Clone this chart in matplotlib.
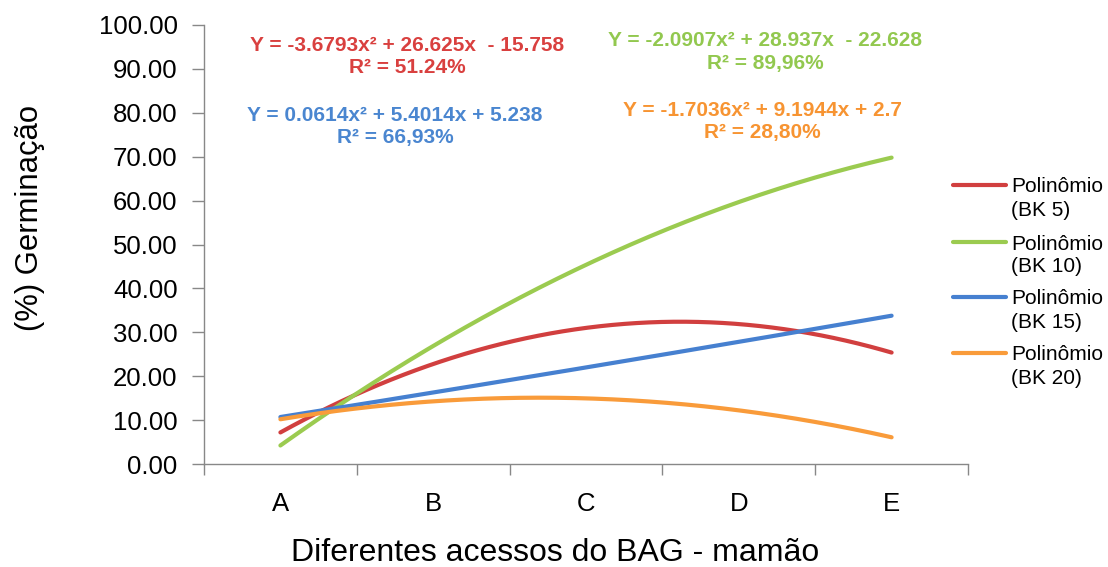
import numpy as np
import matplotlib
matplotlib.use("Agg")
import matplotlib.pyplot as plt
from matplotlib.lines import Line2D

plt.rcParams['font.family'] = ['Liberation Sans', 'DejaVu Sans']

# Categories (accessions) on the x axis
categories = ["A", "B", "C", "D", "E"]

# Quadratic trend coefficients (a, b, c) for Y = a*x^2 + b*x + c
coef_bk5 = [-3.6793, 26.625, -15.758]
coef_bk10 = [-2.0907, 28.937, -22.628]
coef_bk15 = [0.0614, 5.4014, 5.238]
coef_bk20 = [-1.7036, 9.1944, 2.7]

series_names = ["Polinômio\n(BK 5)", "Polinômio\n(BK 10)", "Polinômio\n(BK 15)", "Polinômio\n(BK 20)"]
r2_labels = ["51.24%", "89,96%", "66,93%", "28,80%"]
y_ticks = [0, 10, 20, 30, 40, 50, 60, 70, 80, 90, 100]

line_colors = ["#D13F3F", "#9BCB50", "#4680D0", "#F99B3A"]
text_colors = ["#D9403F", "#92C84F", "#4A86D0", "#F79432"]

W, H = 1108, 567
AX_L, AX_R, AX_T, AX_B = 204, 968, 25, 464
fig = plt.figure(figsize=(W / 100, H / 100), dpi=100)
ax = fig.add_axes([AX_L / W, 1 - AX_B / H, (AX_R - AX_L) / W, (AX_B - AX_T) / H])

x = np.arange(1, len(categories) + 1)
xs = np.linspace(x[0], x[-1], 200)
coefs = [coef_bk5, coef_bk10, coef_bk15, coef_bk20]
for c, col in zip(coefs, line_colors):
    ax.plot(xs, np.polyval(c, xs), color=col, lw=3.0, solid_capstyle="round")

ax.set_xlim(0.5, len(categories) + 0.5)
ax.set_ylim(0, 100)
ax.set_yticks(y_ticks)
ax.set_yticklabels([f"{v:.2f}" for v in y_ticks], fontsize=18.5)
ax.set_xticks(np.arange(0.5, len(categories) + 1, 1.0))
ax.set_xticklabels([])
ax.set_xticks(x, minor=True)
ax.set_xticklabels(categories, minor=True, fontsize=18.5)
ax.tick_params(axis="x", which="major", length=8, color="#888888", width=1)
ax.tick_params(axis="x", which="minor", length=0, pad=20)
ax.tick_params(axis="y", length=9, color="#888888", width=1, pad=10)
for s in ["top", "right"]:
    ax.spines[s].set_visible(False)
for s in ["left", "bottom"]:
    ax.spines[s].set_color("#888888")
    ax.spines[s].set_linewidth(1)

ax.set_ylabel("(%) Germinação", fontsize=22.3)
ax.yaxis.set_label_coords((30 - AX_L) / (AX_R - AX_L), (AX_B - 218) / (AX_B - AX_T))
ax.yaxis.label.set_va("center")
fig.text(555 / W, 1 - 553 / H, "Diferentes acessos do BAG - mamão",
         fontsize=23, ha="center", va="center")

# Regression equations
def eq_text(c):
    a, b, k = c
    def term(v, first=False):
        if first:
            return f"{v:g}"
        return f"+ {v:g}" if v >= 0 else f"- {abs(v):g}"
    gap = "  " if k < 0 else " "
    return f"Y = {term(a, True)}x² {term(b)}x{gap}{term(k)}"

eq_pos = [(407, 45.5, 67.5), (765, 40.5, 63.5), (395, 115.5, 137.5), (762, 110.5, 132.5)]
for c, r2, col, (px, py, ry) in zip(coefs, r2_labels, text_colors, eq_pos):
    fig.text(px / W, 1 - py / H, eq_text(c), color=col, fontsize=15,
             fontweight="bold", ha="center", va="center")
    fig.text(px / W, 1 - ry / H, f"R² = {r2}", color=col, fontsize=15,
             fontweight="bold", ha="center", va="center")

# Legend drawn at the right side
leg_y = [185, 242, 297, 353]
for name, col, ly in zip(series_names, line_colors, leg_y):
    fig.add_artist(Line2D([953 / W, 1006 / W], [1 - ly / H, 1 - ly / H],
                          color=col, lw=3.0, solid_capstyle="round"))
    first, second = name.split("\n")
    fig.text(1011 / W, 1 - (ly + 2) / H, first, fontsize=15, ha="left", va="center")
    fig.text(1011 / W, 1 - (ly + 25) / H, second, fontsize=15, ha="left", va="center")

fig.savefig("out.png", dpi=100)
